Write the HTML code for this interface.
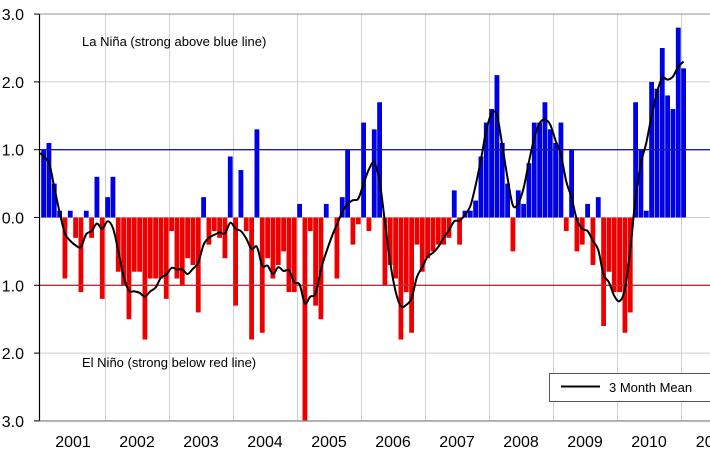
<!DOCTYPE html>
<html><head><meta charset="utf-8">
<style>
html,body{margin:0;padding:0;background:#fff;}
svg{display:block;font-family:"Liberation Sans",Arial,sans-serif;}
</style></head>
<body>
<svg id="c" width="710" height="473" viewBox="0 0 710 473" xmlns="http://www.w3.org/2000/svg">
<rect x="0" y="0" width="710" height="473" fill="#fff"/>
<g id="grid"></g>
<g id="bars"></g>
<line x1="39.5" y1="149.7" x2="710" y2="149.7" stroke="#1a1aa8" stroke-width="1.3"/>
<line x1="39.5" y1="285.3" x2="710" y2="285.3" stroke="#b83030" stroke-width="1.3"/>
<path id="mean" fill="none" stroke="#000" stroke-width="2"/>
<line x1="39.5" y1="14" x2="39.5" y2="421" stroke="#000" stroke-width="1.2"/>
<line x1="39.5" y1="421" x2="710" y2="421" stroke="#888" stroke-width="1.2"/>
<line x1="39.5" y1="14" x2="710" y2="14" stroke="#999" stroke-width="1"/>
<g font-size="16" fill="#000" text-anchor="end" id="ylab"></g>
<g font-size="16" fill="#000" text-anchor="middle" id="xlab"></g>
<text x="82" y="46" font-size="13">La Niña (strong above blue line)</text>
<text x="82" y="367" font-size="13">El Niño (strong below red line)</text>
<rect x="549.5" y="373.5" width="170" height="28" fill="#fff" stroke="#555" stroke-width="1"/>
<line x1="561" y1="386.5" x2="600" y2="386.5" stroke="#000" stroke-width="2"/>
<text x="609" y="392" font-size="13">3 Month Mean</text>
</svg>
<script>
var d=[
1.0,1.1,0.5,0.1,-0.9,0.1,-0.3,-1.1,0.1,-0.3,0.6,-1.2,
0.3,0.6,-0.8,-1.0,-1.5,-0.8,-0.8,-1.8,-0.9,-0.9,-0.9,-1.2,
-0.2,-0.9,-1.0,-0.6,-0.7,-1.4,0.3,-0.4,-0.2,-0.3,-0.6,0.9,
-1.3,0.7,-0.2,-1.8,1.3,-1.7,-0.6,-0.9,-0.7,-0.5,-1.1,-1.1,
0.2,-3.0,-0.2,-1.3,-1.5,0.2,0.0,-0.9,0.3,1.0,-0.4,-0.1,
1.4,-0.2,1.3,1.7,-1.0,-0.7,-0.9,-1.8,-1.1,-1.7,-0.4,-0.8,
-0.6,-0.5,-0.4,-0.4,-0.3,0.4,-0.4,0.1,0.1,0.25,0.9,1.4,
1.6,2.1,1.1,0.5,-0.5,0.4,0.2,0.8,1.4,1.4,1.7,1.3,
1.1,1.4,-0.2,1.0,-0.5,-0.4,0.2,-0.7,0.3,-1.6,-0.8,-1.1,
-1.1,-1.7,-1.4,1.7,1.0,0.1,2.0,1.9,2.5,1.8,1.6,2.8,
2.2];
var NS="http://www.w3.org/2000/svg";
function el(t,a,p){var e=document.createElementNS(NS,t);for(var k in a)e.setAttribute(k,a[k]);if(p)p.appendChild(e);return e;}
var Z=217.5,S=67.8,X0=41,M=64/12;
function Y(v){return Z-v*S;}
var g=document.getElementById('grid');
for(var i=-3;i<=3;i++){ if(i==1||i==-1) continue; el('line',{x1:39.5,x2:710,y1:Y(i),y2:Y(i),stroke:'#cfcfcf','stroke-width':1},g);}
for(var y=0;y<10;y++){var x=105+64*y+0.5;el('line',{x1:x,x2:x,y1:14,y2:421,stroke:'#cfcfcf','stroke-width':1},g);}
var yl=document.getElementById('ylab');
var labs=['3.0','2.0','1.0','0.0','1.0','2.0','3.0'];
for(var i=0;i<7;i++){var v=3-i;var t=el('text',{x:24,y:Y(v)+6},yl);t.textContent=labs[i];
el('line',{x1:34,x2:39.5,y1:Y(v),y2:Y(v),stroke:'#000','stroke-width':1},yl);}
var xl=document.getElementById('xlab');
for(var y=0;y<11;y++){var t=el('text',{x:73+64*y,y:447},xl);t.textContent=String(2001+y);}
var b=document.getElementById('bars');
for(var i=0;i<d.length;i++){var v=d[i];if(v==0)continue;var x=X0+i*M+0.2;
var y1=Math.min(Y(v),Z),h=Math.abs(v*S);
el('rect',{x:x.toFixed(2),y:y1.toFixed(2),width:4.8,height:h.toFixed(2),fill:v>0?'#0000e6':'#ee0000'},b);}
// smoothed mean
var w=[1,2,3,2,1];
var p=[];
for(var i=0;i<d.length;i++){var s=0,n=0;for(var j=-2;j<=2;j++){var k=i+j;if(k>=0&&k<d.length){s+=d[k]*w[j+2];n+=w[j+2];}}
p.push([X0+i*M+2.6,Y(s/n)]);}
p[0][0]=40;
var s='M'+p[0][0]+','+p[0][1];
for(var i=0;i<p.length-1;i++){var p0=p[i>0?i-1:i],p1=p[i],p2=p[i+1],p3=p[i+2<p.length?i+2:i+1];
var c1x=p1[0]+(p2[0]-p0[0])/6,c1y=p1[1]+(p2[1]-p0[1])/6,c2x=p2[0]-(p3[0]-p1[0])/6,c2y=p2[1]-(p3[1]-p1[1])/6;
s+=' C'+c1x.toFixed(2)+','+c1y.toFixed(2)+' '+c2x.toFixed(2)+','+c2y.toFixed(2)+' '+p2[0].toFixed(2)+','+p2[1].toFixed(2);}
document.getElementById('mean').setAttribute('d',s);
</script>
</body></html>
